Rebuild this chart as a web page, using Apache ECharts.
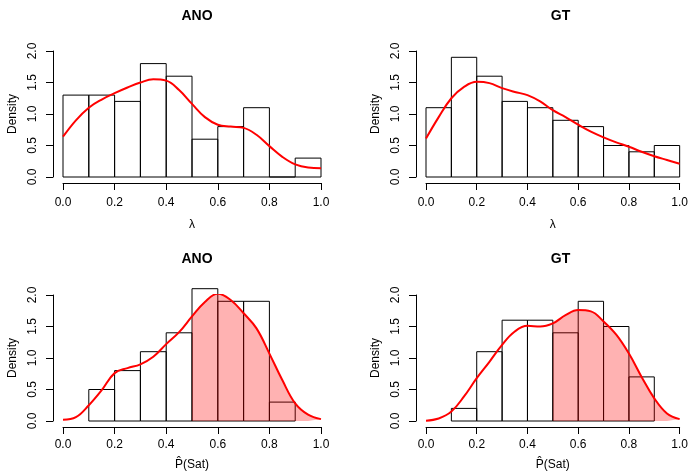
<!DOCTYPE html>
<html>
<head>
<meta charset="utf-8">
<script src="https://cdn.jsdelivr.net/npm/echarts@6/dist/echarts.min.js"></script>
<style>
html,body{margin:0;padding:0;background:#fff;}
#c{width:691px;height:476px;}
</style>
</head>
<body>
<div id="c"></div>
<script>
// ---- data ----
const titles = ['ANO', 'GT', 'ANO', 'GT'];
const xNames = ['λ', 'λ', 'P\u0302(Sat)', 'P\u0302(Sat)'];
const xTickLabels = ['0.0', '0.2', '0.4', '0.6', '0.8', '1.0'];
const yTickLabels = ['0.0', '0.5', '1.0', '1.5', '2.0'];

const binsLambda = [0.0, 0.1, 0.2, 0.3, 0.4, 0.5, 0.6, 0.7, 0.8, 0.9, 1.0];
const histLambdaANO = [1.3, 1.3, 1.2, 1.8, 1.6, 0.6, 0.8, 1.1, 0.0, 0.3];
const histLambdaGT = [1.1, 1.9, 1.6, 1.2, 1.1, 0.9, 0.8, 0.5, 0.4, 0.5];

const binsPSat = [0.1, 0.2, 0.3, 0.4, 0.5, 0.6, 0.7, 0.8, 0.9];
const histPSatANO = [0.5, 0.8, 1.1, 1.4, 2.1, 1.9, 1.9, 0.3];
const histPSatGT = [0.2, 1.1, 1.6, 1.6, 1.4, 1.9, 1.5, 0.7];

const densX = [0.00, 0.05, 0.10, 0.15, 0.20, 0.25, 0.30, 0.35, 0.40, 0.45, 0.50,
               0.55, 0.60, 0.65, 0.70, 0.75, 0.80, 0.85, 0.90, 0.95, 1.00];
const densLambdaANO = [0.64, 0.90, 1.10, 1.23, 1.33, 1.42, 1.50, 1.55, 1.53, 1.38, 1.16,
                       0.95, 0.83, 0.80, 0.78, 0.67, 0.49, 0.32, 0.20, 0.15, 0.14];
const densLambdaGT = [0.61, 0.95, 1.25, 1.43, 1.51, 1.49, 1.41, 1.35, 1.30, 1.20, 1.06,
                      0.95, 0.83, 0.72, 0.63, 0.55, 0.48, 0.40, 0.33, 0.27, 0.21];
const densPSatANO = [0.02, 0.06, 0.25, 0.49, 0.76, 0.84, 0.90, 1.02, 1.22, 1.41, 1.66,
                     1.89, 2.02, 1.92, 1.71, 1.47, 1.07, 0.65, 0.28, 0.10, 0.03];
const densPSatGT = [0.005, 0.04, 0.15, 0.39, 0.68, 0.94, 1.21, 1.42, 1.51, 1.50, 1.55,
                    1.68, 1.76, 1.74, 1.58, 1.37, 1.07, 0.70, 0.36, 0.12, 0.03];
const shadeFrom = 0.5;

// ---- build ----
const FONT = 'Liberation Sans';
const panels = [
  {bins: binsLambda, hist: histLambdaANO, dens: densLambdaANO, shade: false},
  {bins: binsLambda, hist: histLambdaGT, dens: densLambdaGT, shade: false},
  {bins: binsPSat, hist: histPSatANO, dens: densPSatANO, shade: true},
  {bins: binsPSat, hist: histPSatGT, dens: densPSatGT, shade: true}
];
const grids = [
  {left: 63, top: 51, width: 258, height: 126},
  {left: 426, top: 51, width: 259, height: 126},
  {left: 63, top: 295, width: 258, height: 126},
  {left: 426, top: 295, width: 259, height: 126}
];

const option = {
  animation: false,
  backgroundColor: '#fff',
  title: [], grid: grids, xAxis: [], yAxis: [], series: []
};

panels.forEach((p, i) => {
  const g = grids[i];
  option.title.push({
    text: titles[i], left: g.left + g.width / 2, top: i < 2 ? 4 : 247, textAlign: 'center',
    textStyle: {fontFamily: FONT, fontWeight: 'bold', fontSize: 14, color: '#000'}
  });
  option.xAxis.push({
    gridIndex: i, type: 'value', min: 0, max: 1, interval: 0.2, offset: 6,
    axisLine: {show: true, onZero: false, lineStyle: {color: '#000', width: 1}},
    axisTick: {show: true, length: 7, lineStyle: {color: '#000'}},
    splitLine: {show: false},
    axisLabel: {fontFamily: FONT, fontSize: 12, color: '#000', margin: i < 2 ? 14 : 12,
      showMinLabel: true, showMaxLabel: true,
      formatter: v => xTickLabels[Math.round(v / 0.2)]},
    name: xNames[i], nameLocation: 'middle', nameGap: i < 2 ? 36 : 32,
    nameTextStyle: {fontFamily: FONT, fontSize: 12, color: '#000'}
  });
  option.yAxis.push({
    gridIndex: i, type: 'value', min: 0, max: 2, interval: 0.5, offset: 10,
    axisLine: {show: true, onZero: false, lineStyle: {color: '#000', width: 1}},
    axisTick: {show: true, length: 7, lineStyle: {color: '#000'}},
    splitLine: {show: false},
    axisLabel: {fontFamily: FONT, fontSize: 12, color: '#000', margin: 14, rotate: 90,
      showMinLabel: true, showMaxLabel: true,
      formatter: v => yTickLabels[Math.round(v / 0.5)]},
    name: 'Density', nameLocation: 'middle', nameGap: 34,
    nameTextStyle: {fontFamily: FONT, fontSize: 12, color: '#000'}
  });
  const histData = p.hist.map((h, k) => [p.bins[k], p.bins[k + 1], h]);
  option.series.push({
    type: 'custom', xAxisIndex: i, yAxisIndex: i, z: 2, data: histData,
    renderItem: (params, api) => {
      const a = api.coord([api.value(0), api.value(2)]);
      const b = api.coord([api.value(1), 0]);
      return {type: 'rect', shape: {x: a[0], y: a[1], width: b[0] - a[0], height: b[1] - a[1]},
        style: {fill: 'none', stroke: '#000', lineWidth: 1}};
    }
  });
  const curve = densX.map((x, k) => [x, p.dens[k]]);
  if (p.shade) {
    option.series.push({
      type: 'line', xAxisIndex: i, yAxisIndex: i, z: 3, smooth: 0.4, showSymbol: false,
      data: curve.filter(d => d[0] >= shadeFrom - 1e-9),
      lineStyle: {width: 0, opacity: 0},
      areaStyle: {color: 'rgba(255,0,0,0.3)', opacity: 1}
    });
  }
  option.series.push({
    type: 'line', xAxisIndex: i, yAxisIndex: i, z: 4, smooth: 0.4, showSymbol: false,
    data: curve, lineStyle: {color: '#ff0000', width: 2}, itemStyle: {color: '#ff0000'}
  });
});

const chart = echarts.init(document.getElementById('c'), null, {renderer: 'canvas'});
chart.setOption(option);
</script>
</body>
</html>
